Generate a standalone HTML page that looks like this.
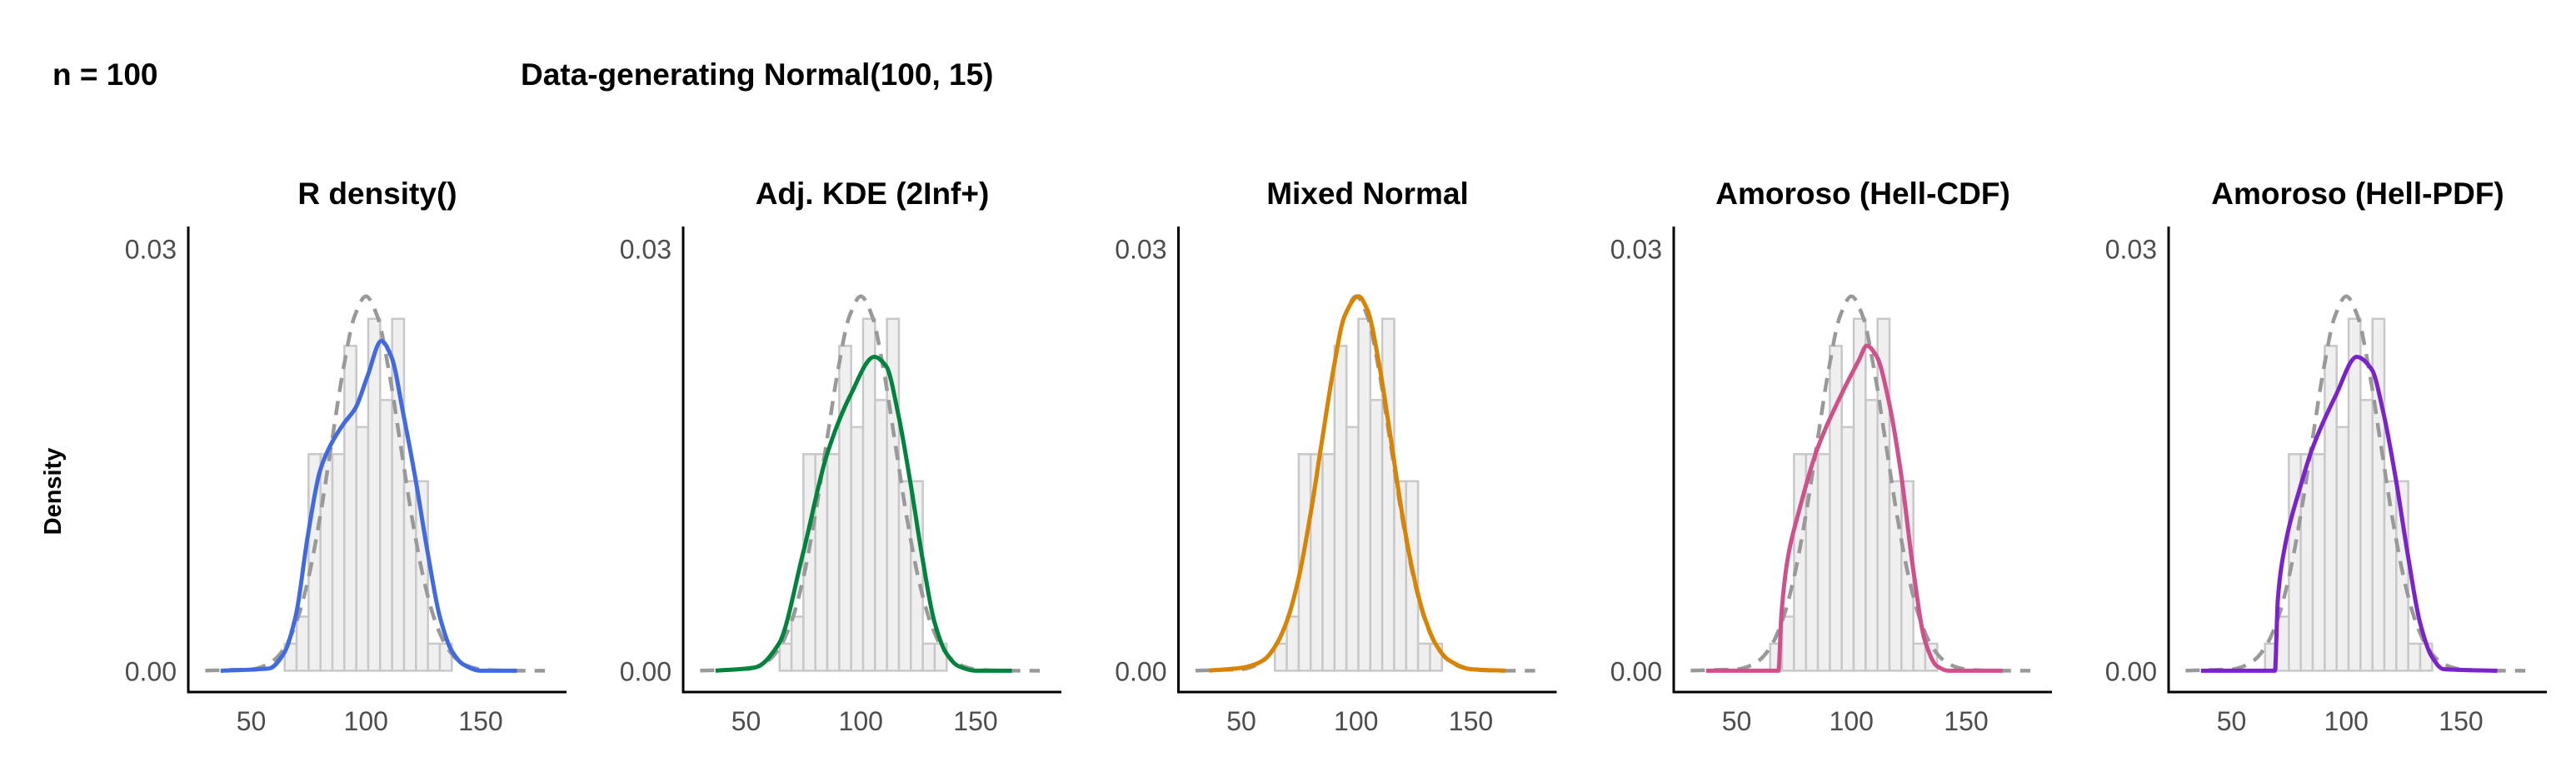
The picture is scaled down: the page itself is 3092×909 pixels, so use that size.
<!DOCTYPE html>
<html><head><meta charset="utf-8"><style>
html,body{margin:0;padding:0;background:#fff;}
svg{display:block;font-family:"Liberation Sans",Arial,sans-serif;}
</style></head><body>
<svg id="chart" width="3092" height="909" viewBox="0 0 3092 909" xmlns="http://www.w3.org/2000/svg">
<text x="63" y="102" font-size="37" font-weight="bold">n = 100</text>
<text x="625" y="102" font-size="37" font-weight="bold">Data-generating Normal(100, 15)</text>
<text transform="translate(73,590) rotate(-90)" text-anchor="middle" font-size="29" font-weight="bold">Density</text>
<g id="panels"></g>
</svg>
<script>
const binStart = 64.6;
const binWidth = 5.2;
const histCounts = [1,2,8,8,8,12,9,13,10,13,7,7,1,1];
const sampleN = 100;
const panelTitles = ["R density()","Adj. KDE (2Inf+)","Mixed Normal","Amoroso (Hell-CDF)","Amoroso (Hell-PDF)"];
const panelColors = ["#4169E1","#00843D","#D98300","#D0508A","#7A22CC"];
const xTicks = [50,100,150];
const yTicks = [0,0.03];
const yTickLabels = ["0.00","0.03"];
const trueX = [30,40,50,55,60,65,70,75,80,85,90,95,100,105,110,115,120,125,130,135,140,145,150,160,170,178];
const trueY = [0.00001,0.00005,0.0001,0.0003,0.00076,0.00175,0.0036,0.00663,0.01093,0.01613,0.0213,0.02516,0.0266,0.02516,0.0213,0.01613,0.01093,0.00663,0.0036,0.00175,0.00076,0.0003,0.0001,0.00001,0,0];
const rDensX = [36.7,57.8,64.3,69.5,74.7,79.9,85.1,90.3,95.5,100.7,106.7,111.1,116.3,121.5,126.8,132,137.2,142.4,150.2,165.8];
const rDensY = [0,0.00016,0.00125,0.00396,0.00962,0.01415,0.01619,0.01755,0.01868,0.02094,0.02343,0.0223,0.01823,0.0137,0.00849,0.00396,0.00147,0.00045,0,0];
const kdeX = [36.7,53.9,64.3,74.7,85.1,95.5,105.9,111.1,116.3,121.5,126.8,132,137.2,142.4,150.2,165.8];
const kdeY = [0,0.00023,0.00192,0.00826,0.01528,0.01958,0.0223,0.02162,0.01823,0.01347,0.00804,0.00351,0.00125,0.00034,0,0];
const mixX = [36,50,55,60,65,70,75,80,85,90,95,101,105,110,115,120,125,130,135,140,150,165];
const mixY = [0.00001,0.0002,0.0004,0.0008,0.0018,0.0036,0.0066,0.011,0.0162,0.0213,0.0252,0.0266,0.0256,0.0218,0.0166,0.0112,0.0068,0.0037,0.0018,0.0008,0.00011,0];
const cdfX = [36.7,68.2,69.5,72.1,77.3,85.1,95.5,103.3,106.7,111.1,116.3,121.5,126.8,132,137.2,142.4,165.8];
const cdfY = [0,0,0.00396,0.0078,0.01142,0.01573,0.01958,0.02207,0.02309,0.0223,0.01913,0.01415,0.00736,0.00215,0.00034,0,0];
const pdfX = [36.7,68.9,70.2,73.4,79.9,85.1,95.5,104.6,111.1,116.3,121.5,126.8,132,137.2,142.4,165.8];
const pdfY = [0,0,0.00509,0.00894,0.01302,0.01573,0.01958,0.0223,0.0214,0.01823,0.0137,0.00826,0.00351,0.00102,0.00011,0];
const fitX = [rDensX,kdeX,mixX,cdfX,pdfX];
const fitY = [rDensY,kdeY,mixY,cdfY,pdfY];

const NS = "http://www.w3.org/2000/svg";
const panelOffsets = [0,594,1188.5,1783,2377];
const root = document.getElementById('panels');
function mk(tag, attrs, parent){const e=document.createElementNS(NS,tag);for(const k in attrs)e.setAttribute(k,attrs[k]);parent.appendChild(e);return e;}
// monotone cubic (Fritsch-Carlson) path through screen points
function smooth(pts){
  const n=pts.length, d=[], m=new Array(n);
  for(let i=0;i<n-1;i++) d.push((pts[i+1][1]-pts[i][1])/(pts[i+1][0]-pts[i][0]));
  m[0]=d[0]; m[n-1]=d[n-2];
  for(let i=1;i<n-1;i++){
    if(d[i-1]*d[i]<=0) m[i]=0;
    else{
      const h0=pts[i][0]-pts[i-1][0], h1=pts[i+1][0]-pts[i][0];
      const w1=2*h1+h0, w2=h1+2*h0;
      m[i]=(w1+w2)/(w1/d[i-1]+w2/d[i]);
    }
  }
  let s="M"+pts[0][0].toFixed(2)+","+pts[0][1].toFixed(2);
  for(let i=0;i<n-1;i++){
    const h=(pts[i+1][0]-pts[i][0])/3;
    s+=" C"+(pts[i][0]+h).toFixed(2)+","+(pts[i][1]+m[i]*h).toFixed(2)+" "+(pts[i+1][0]-h).toFixed(2)+","+(pts[i+1][1]-m[i+1]*h).toFixed(2)+" "+pts[i+1][0].toFixed(2)+","+pts[i+1][1].toFixed(2);
  }
  return s;
}
panelTitles.forEach((title,k)=>{
  const ox = panelOffsets[k];
  const xs = v => ox + 163.75 + v*2.755;
  const ys = d => 805.4 - d*(507.1/0.03);
  const g = mk('g',{},root);
  
  
  const t = mk('text',{x:ox+453,y:245,'text-anchor':'middle','font-size':37,'font-weight':'bold'},g);
  t.textContent = title;
  
  
  histCounts.forEach((c,i)=>{
    const x0=xs(binStart+i*binWidth), x1=xs(binStart+(i+1)*binWidth);
    const dens=c/(sampleN*binWidth);
    const r=mk('rect',{x:x0,y:ys(dens),width:x1-x0,height:ys(0)-ys(dens),fill:'#f0f0f0',stroke:'#c8c8c8','stroke-width':2.5},g);
    
    
  });
  const tp = mk('path',{d:smooth(trueX.map((v,i)=>[xs(v),ys(trueY[i])])),fill:'none',stroke:'#999','stroke-width':4.5,'stroke-dasharray':'17,11'},g);
  
  
  const fp = mk('path',{d:smooth(fitX[k].map((v,i)=>[xs(v),ys(fitY[k][i])])),fill:'none',stroke:panelColors[k],'stroke-width':5,'stroke-linejoin':'round'},g);
  
  
  const ya = mk('line',{x1:ox+226,y1:272,x2:ox+226,y2:832.5,stroke:'#000','stroke-width':3},g);
  
  
  const xa = mk('line',{x1:ox+224.5,y1:831,x2:ox+680,y2:831,stroke:'#000','stroke-width':3},g);
  
  
  xTicks.forEach(v=>{
    const l=mk('text',{x:xs(v),y:877,'text-anchor':'middle','font-size':32,fill:'#4d4d4d'},g);
    l.textContent=String(v);
    
    
  });
  yTicks.forEach((v,i)=>{
    const l=mk('text',{x:ox+212,y:ys(v)+12,'text-anchor':'end','font-size':32,fill:'#4d4d4d'},g);
    l.textContent=yTickLabels[i];
    
    
  });
});
</script>
</body></html>
